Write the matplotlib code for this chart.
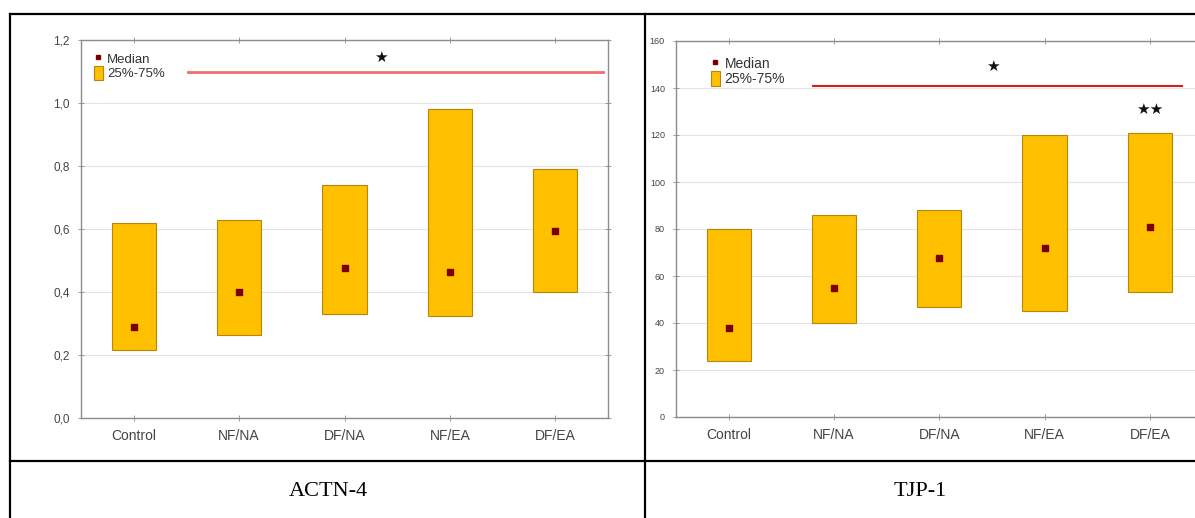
import matplotlib
matplotlib.use("Agg")
import matplotlib.pyplot as plt
from matplotlib.lines import Line2D
from matplotlib.patches import Patch

# ---------------- Data ----------------
groups = ["Control", "NF/NA", "DF/NA", "NF/EA", "DF/EA"]

actn_q1 = [0.215, 0.265, 0.33, 0.325, 0.40]
actn_q3 = [0.62, 0.63, 0.74, 0.98, 0.79]
actn_median = [0.29, 0.40, 0.475, 0.465, 0.595]
actn_yticks = [0.0, 0.2, 0.4, 0.6, 0.8, 1.0, 1.2]
actn_yticklabels = ["0,0", "0,2", "0,4", "0,6", "0,8", "1,0", "1,2"]

tjp_q1 = [24, 40, 47, 45, 53]
tjp_q3 = [80, 86, 88, 120, 121]
tjp_median = [38, 55, 67.5, 72, 81]
tjp_yticks = [0, 20, 40, 60, 80, 100, 120, 140, 160]
tjp_yticklabels = ["0", "20", "40", "60", "80", "100", "120", "140", "160"]

# significance marks: (x start, x end, y) for the bar, then star texts
actn_sig_line = (0.515, 4.45, 1.10)
actn_stars = [(2.34, 1.145, "★")]
tjp_sig_line = (0.80, 4.31, 141)
tjp_stars = [(2.51, 149, "★"), (4.0, 131, "★★")]

BOX_COLOR = "#FFC000"
EDGE_COLOR = "#B8860B"
MEDIAN_COLOR = "#7a0000"
TICK_COLOR = "#444444"
SPINE_COLOR = "#8c8c8c"


def draw_panel(ax, q1, q3, med, yticks, yticklabels, ylim, sig_line, stars,
               line_color, line_width, tick_fs, legend_fs, legend_anchor):
    x = list(range(len(groups)))
    heights = [b - a for a, b in zip(q1, q3)]
    ax.bar(x, heights, bottom=q1, width=0.42, color=BOX_COLOR,
           edgecolor=EDGE_COLOR, linewidth=0.8, zorder=3)
    ax.scatter(x, med, marker="s", s=14, color=MEDIAN_COLOR, zorder=4)

    ax.set_xlim(-0.5, len(groups) - 0.5)
    ax.set_ylim(*ylim)
    ax.set_xticks(x)
    ax.set_xticklabels(groups, fontsize=10, color=TICK_COLOR)
    ax.set_yticks(yticks)
    ax.set_yticklabels(yticklabels, fontsize=tick_fs, color=TICK_COLOR)
    ax.tick_params(direction="inout", length=4, width=0.6, color=SPINE_COLOR,
                   top=True, right=True, pad=6)
    ax.yaxis.grid(True, color="#e4e4e4", linewidth=0.8, zorder=0)
    ax.set_axisbelow(True)
    for s in ax.spines.values():
        s.set_color(SPINE_COLOR)
        s.set_linewidth(1.0)

    x0, x1, yl = sig_line
    ax.plot([x0, x1], [yl, yl], color=line_color, linewidth=line_width, zorder=3)
    for sx, sy, txt in stars:
        ax.text(sx, sy, txt, ha="center", va="center", fontsize=11,
                color="#111111", family=["DejaVu Sans"])

    handles = [Line2D([], [], marker="s", linestyle="", color=MEDIAN_COLOR, markersize=3.5),
               Patch(facecolor=BOX_COLOR, edgecolor=EDGE_COLOR, linewidth=0.8)]
    leg = ax.legend(handles, ["Median", "25%-75%"], loc="upper left",
                    bbox_to_anchor=legend_anchor, frameon=False,
                    fontsize=legend_fs, handlelength=0.7, handleheight=1.3,
                    handletextpad=0.3, labelspacing=0.0, borderaxespad=0)
    for t in leg.get_texts():
        t.set_color("#333333")


plt.rcParams["font.family"] = ["Liberation Sans", "DejaVu Sans"]
fig = plt.figure(figsize=(11.95, 5.18), dpi=100)

# table frame around the two panels
W, H = 1195.0, 518.0
frame = [((10, 1195), (14, 14)), ((10, 10), (14, 518)), ((645, 645), (14, 518)),
         ((10, 1195), (461, 461))]
for xs, ys in frame:
    fig.add_artist(Line2D([v / W for v in xs], [1 - v / H for v in ys],
                          color="black", linewidth=1.6))

ax1 = fig.add_axes([81 / W, 1 - 418 / H, 527 / W, 378 / H])
draw_panel(ax1, actn_q1, actn_q3, actn_median, actn_yticks, actn_yticklabels,
           (0, 1.2), actn_sig_line, actn_stars, "#f07070", 2.0, 8.5, 9.5,
           (0.014, 0.985))

ax2 = fig.add_axes([676 / W, 1 - 417 / H, 526.5 / W, 376 / H])
draw_panel(ax2, tjp_q1, tjp_q3, tjp_median, tjp_yticks, tjp_yticklabels,
           (0, 160), tjp_sig_line, tjp_stars, "#d02020", 1.5, 6.5, 10,
           (0.055, 0.975))

fig.text(328 / W, 1 - 492 / H, "ACTN-4", ha="center", va="center",
         fontsize=16, family=["Liberation Serif"])
fig.text(920 / W, 1 - 492 / H, "TJP-1", ha="center", va="center",
         fontsize=16, family=["Liberation Serif"])

fig.savefig("out.png", dpi=100)
